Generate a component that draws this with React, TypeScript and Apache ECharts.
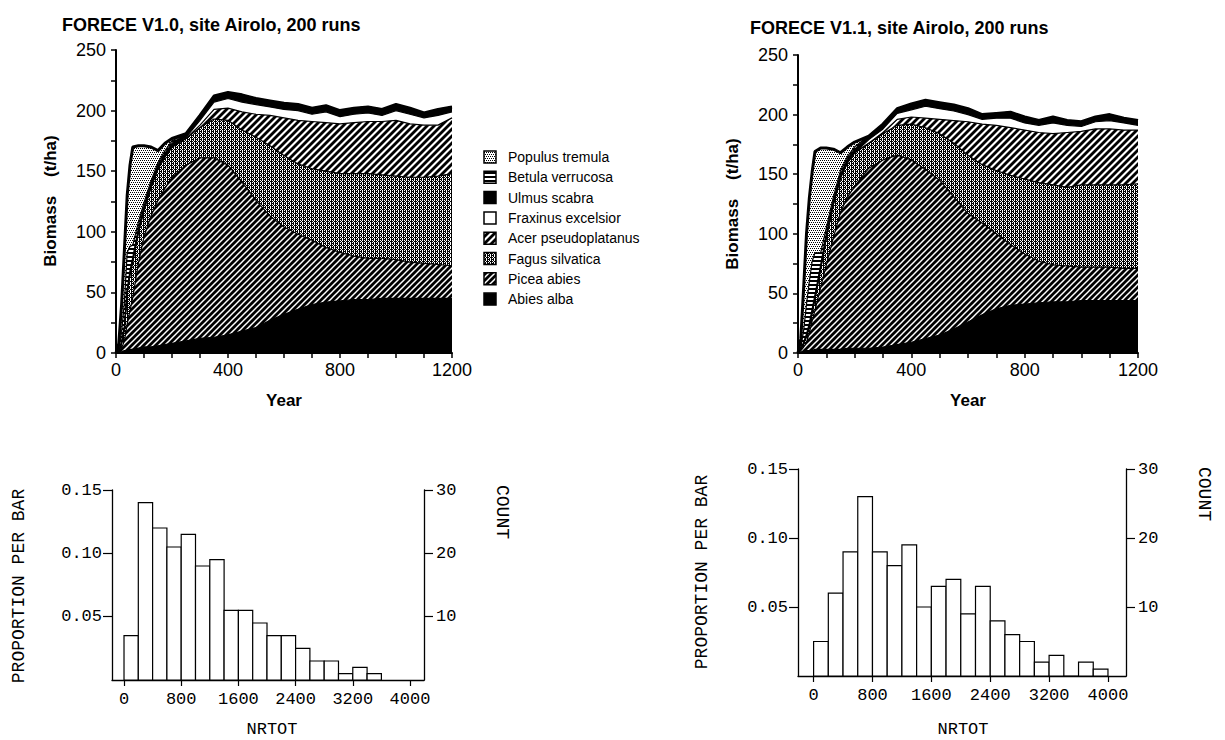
import React, { useEffect, useRef } from 'react';
import * as echarts from 'echarts';

// ---------- data ----------
const years = [0, 10, 20, 30, 40, 50, 60, 80, 100, 125, 150, 175, 200, 250, 300, 350, 400, 450, 500, 550, 600, 650, 700, 750, 800, 850, 900, 950, 1000, 1050, 1100, 1150, 1200];

const speciesLegend = ['Populus tremula', 'Betula verrucosa', 'Ulmus scabra', 'Fraxinus excelsior', 'Acer pseudoplatanus', 'Fagus silvatica', 'Picea abies', 'Abies alba'];

// FORECE V1.0 — biomass (t/ha) per species
const abiesV10 = [0, 0, 1, 2, 2, 3, 3, 4, 5, 5, 6, 7, 8, 10, 12, 13, 15, 18, 21, 27, 32, 36, 40, 42, 43, 44, 44, 45, 45, 45, 45, 45, 45];
const piceaV10 = [0, 1, 3, 8, 22, 32, 43, 70, 91, 108, 120, 129, 137, 145, 149, 148, 140, 123, 105, 86, 72, 62, 53, 45, 40, 36, 34, 33, 32, 30, 29, 28, 27];
const fagusV10 = [0, 0, 4, 10, 26, 30, 30, 26, 22, 24, 26, 26, 25, 22, 25, 32, 37, 43, 52, 58, 59, 58, 59, 63, 65, 68, 70, 69, 69, 70, 71, 73, 76];
const acerV10 = [0, 0, 0, 0, 0, 0, 0, 0, 0, 0, 0, 0, 0, 0, 2, 8, 10, 15, 19, 25, 31, 36, 39, 40, 41, 42, 43, 44, 46, 44, 43, 42, 46];
const fraxinusV10 = [0, 0, 0, 0, 0, 0, 0, 0, 0, 0, 0, 0, 0, 1, 4, 6, 8, 8, 8, 7, 7, 8, 6, 9, 6, 7, 7, 5, 8, 8, 6, 8, 5];
const ulmusV10 = [0, 0, 1, 2, 3, 3, 3, 3, 3, 3, 3, 3, 3, 3, 4, 5, 5, 6, 5, 5, 5, 5, 5, 5, 5, 5, 5, 5, 5, 5, 4, 5, 4];
const betulaV10 = [0, 2, 8, 20, 30, 20, 10, 5, 3, 2, 2, 2, 2, 0, 0, 0, 0, 0, 0, 0, 0, 0, 0, 0, 0, 0, 0, 0, 0, 0, 0, 0, 0];
const populusV10 = [0, 5, 23, 43, 47, 67, 81, 63, 47, 28, 10, 6, 2, 0, 0, 0, 0, 0, 0, 0, 0, 0, 0, 0, 0, 0, 0, 0, 0, 0, 0, 0, 0];

// FORECE V1.1 — biomass (t/ha) per species
const abiesV11 = [0, 1, 1, 2, 2, 2, 3, 3, 3, 3, 3, 4, 4, 4, 5, 7, 9, 12, 15, 20, 26, 32, 37, 40, 41, 42, 43, 43, 44, 44, 44, 44, 44];
const piceaV11 = [0, 1, 4, 7, 15, 25, 33, 52, 71, 94, 115, 127, 136, 151, 157, 159, 153, 142, 130, 111, 91, 77, 63, 51, 42, 35, 31, 30, 28, 28, 28, 27, 27];
const fagusV11 = [0, 1, 3, 5, 5, 7, 10, 16, 23, 28, 29, 29, 28, 21, 22, 25, 30, 35, 39, 45, 49, 49, 53, 58, 63, 66, 67, 66, 69, 69, 69, 70, 71];
const acerV11 = [0, 0, 0, 0, 0, 0, 0, 0, 0, 0, 0, 0, 0, 0, 1, 5, 6, 8, 12, 19, 28, 34, 38, 40, 41, 42, 43, 46, 45, 47, 47, 46, 45];
const fraxinusV11 = [0, 0, 0, 0, 0, 0, 0, 0, 0, 0, 0, 0, 0, 3, 3, 5, 6, 10, 9, 8, 6, 4, 6, 8, 6, 6, 9, 6, 4, 6, 7, 6, 4];
const ulmusV11 = [0, 0, 1, 2, 3, 3, 3, 3, 3, 3, 3, 3, 3, 3, 4, 4, 5, 5, 5, 5, 5, 4, 4, 5, 5, 4, 5, 4, 4, 4, 5, 4, 4];
const betulaV11 = [0, 2, 10, 25, 35, 40, 35, 10, 5, 3, 3, 2, 2, 0, 0, 0, 0, 0, 0, 0, 0, 0, 0, 0, 0, 0, 0, 0, 0, 0, 0, 0, 0];
const populusV11 = [0, 7, 36, 59, 70, 75, 85, 88, 67, 40, 15, 8, 4, 0, 0, 0, 0, 0, 0, 0, 0, 0, 0, 0, 0, 0, 0, 0, 0, 0, 0, 0, 0];

// Histograms of NRTOT (bin width 200, starting at 0)
const binStarts = [0, 200, 400, 600, 800, 1000, 1200, 1400, 1600, 1800, 2000, 2200, 2400, 2600, 2800, 3000, 3200, 3400, 3600, 3800];
const binWidth = 200;
const countsV10 = [7, 28, 24, 21, 23, 18, 19, 11, 11, 9, 7, 7, 5, 3, 3, 1, 2, 1];
const countsV11 = [5, 12, 18, 26, 18, 16, 19, 10, 13, 14, 9, 13, 8, 6, 5, 2, 3, 0, 2, 1];
const runs = 200;

const nrtotTicks = [0, 800, 1600, 2400, 3200, 4000];
const proportionTicks = [0.05, 0.1, 0.15];
const countTicks = [10, 20, 30];

const titleV10 = 'FORECE V1.0, site Airolo, 200 runs';
const titleV11 = 'FORECE V1.1, site Airolo, 200 runs';

// ---------- patterns ----------
function pixelTile(rows: string[]) {
  const h = rows.length;
  const w = rows[0].length;
  const c = document.createElement('canvas');
  c.width = w;
  c.height = h;
  const ctx = c.getContext('2d') as CanvasRenderingContext2D;
  const img = ctx.createImageData(w, h);
  for (let y = 0; y < h; y++) {
    for (let x = 0; x < w; x++) {
      const v = rows[y][x] === '#' ? 0 : 255;
      const i = (y * w + x) * 4;
      img.data[i] = v;
      img.data[i + 1] = v;
      img.data[i + 2] = v;
      img.data[i + 3] = 255;
    }
  }
  ctx.putImageData(img, 0, 0);
  return { image: c.toDataURL(), repeat: 'repeat', imageWidth: w, imageHeight: h };
}

function hatchTile(size: number, bg: string, fg: string, lw: number) {
  const c = document.createElement('canvas');
  c.width = size;
  c.height = size;
  const ctx = c.getContext('2d') as CanvasRenderingContext2D;
  ctx.fillStyle = bg;
  ctx.fillRect(0, 0, size, size);
  ctx.strokeStyle = fg;
  ctx.lineWidth = lw;
  for (const o of [-size, 0, size]) {
    ctx.beginPath();
    ctx.moveTo(o - 1, size + 1);
    ctx.lineTo(o + size + 1, -1);
    ctx.stroke();
  }
  return { image: c.toDataURL(), repeat: 'repeat', imageWidth: size, imageHeight: size };
}

function buildPatterns() {
  const black = '#000';
  const white = '#fff';
  const picea = hatchTile(6, '#000', '#fff', 1.5);
  const acer = hatchTile(7, '#fff', '#000', 2.8);
  const fagus = pixelTile(['.#.#', '#.##', '.#.#', '##.#']);
  const populus = pixelTile(['#.#.', '....', '.#.#', '....']);
  const betula = pixelTile(['####', '####', '....', '....']);
  // bottom -> top order
  return [black, picea, fagus, acer, white, black, betula, populus];
}

// ---------- helpers ----------
function stackedSeries(layers: number[][], patterns: any[], axisIdx: number) {
  const cum: number[][] = [];
  let running = years.map(() => 0);
  layers.forEach((arr) => {
    running = running.map((v, k) => v + arr[k]);
    cum.push(running);
  });
  const out: any[] = [];
  for (let i = layers.length - 1; i >= 0; i--) {
    out.push({
      type: 'line',
      xAxisIndex: axisIdx,
      yAxisIndex: axisIdx,
      data: years.map((y, k) => [y, cum[i][k]]),
      symbol: 'none',
      smooth: false,
      silent: true,
      lineStyle: { color: '#000', width: 1.2 },
      areaStyle: { color: patterns[i], opacity: 1, origin: 'start' },
      z: 2,
    });
  }
  out.push({
    type: 'line',
    xAxisIndex: axisIdx,
    yAxisIndex: axisIdx,
    data: years.map((y, k) => [y, cum[layers.length - 1][k]]),
    symbol: 'none',
    silent: true,
    lineStyle: { color: '#000', width: 3 },
    z: 3,
  });
  return out;
}

function histSeries(counts: number[], xIdx: number, yIdx: number) {
  return {
    type: 'custom',
    xAxisIndex: xIdx,
    yAxisIndex: yIdx,
    silent: true,
    data: counts.map((c, i) => [binStarts[i], binStarts[i] + binWidth, c]),
    encode: { x: [0, 1], y: 2 },
    renderItem: (params: any, api: any) => {
      const p0 = api.coord([api.value(0), api.value(2)]);
      const p1 = api.coord([api.value(1), 0]);
      return {
        type: 'rect',
        shape: { x: p0[0], y: p0[1], width: p1[0] - p0[0], height: p1[1] - p0[1] },
        style: { fill: '#fff', stroke: '#000', lineWidth: 1.2 },
      };
    },
    z: 2,
  };
}

const SANS = '"Liberation Sans", Arial, Helvetica, sans-serif';
const MONO = '"Liberation Mono", "Courier New", monospace';

function topXAxis(gridIndex: number) {
  return {
    type: 'value', gridIndex, min: 0, max: 1200, interval: 100,
    axisLine: { show: true, onZero: false, lineStyle: { color: '#000', width: 2 } },
    axisTick: { show: true, length: 5, lineStyle: { color: '#000', width: 1.5 } },
    axisLabel: { color: '#000', fontFamily: SANS, fontSize: 18, margin: 8, formatter: (v: number) => (v % 400 === 0 ? String(v) : '') },
    splitLine: { show: false },
  };
}
function topYAxis(gridIndex: number) {
  return {
    type: 'value', gridIndex, min: 0, max: 250, interval: 25,
    axisLine: { show: true, onZero: false, lineStyle: { color: '#000', width: 2 } },
    axisTick: { show: true, length: 5, lineStyle: { color: '#000', width: 1.5 } },
    axisLabel: { color: '#000', fontFamily: SANS, fontSize: 18, margin: 10, formatter: (v: number) => (v % 50 === 0 ? String(v) : '') },
    splitLine: { show: false },
  };
}
function histXAxis(gridIndex: number, min: number, max: number) {
  return {
    type: 'value', gridIndex, min, max,
    axisLine: { show: true, onZero: false, lineStyle: { color: '#000', width: 1.3 } },
    axisTick: { show: true, customValues: nrtotTicks, length: 6, lineStyle: { color: '#000', width: 1.2 } },
    axisLabel: { customValues: nrtotTicks, color: '#000', fontFamily: MONO, fontSize: 17, margin: 11, formatter: (v: number) => String(Math.round(v)) },
    splitLine: { show: false },
  };
}
function propAxis(gridIndex: number) {
  return {
    type: 'value', gridIndex, position: 'left', min: 0, max: 0.15,
    axisLine: { show: true, onZero: false, lineStyle: { color: '#000', width: 1.3 } },
    axisTick: { show: true, customValues: proportionTicks, length: 9, lineStyle: { color: '#000', width: 1.2 } },
    axisLabel: { customValues: proportionTicks, color: '#000', fontFamily: MONO, fontSize: 17, margin: 10, formatter: (v: number) => v.toFixed(2) },
    splitLine: { show: false },
  };
}
function countAxis(gridIndex: number) {
  return {
    type: 'value', gridIndex, position: 'right', min: 0, max: runs * 0.15,
    axisLine: { show: true, onZero: false, lineStyle: { color: '#000', width: 1.3 } },
    axisTick: { show: true, customValues: countTicks, length: 9, lineStyle: { color: '#000', width: 1.2 } },
    axisLabel: { customValues: countTicks, color: '#000', fontFamily: MONO, fontSize: 17, margin: 12, formatter: (v: number) => String(Math.round(v)) },
    splitLine: { show: false },
  };
}

function txt(text: string, x: number, y: number, opts: any = {}) {
  return {
    type: 'text', x, y, rotation: opts.rotation || 0, silent: true,
    style: {
      text, fill: '#000',
      fontFamily: opts.fontFamily || SANS,
      fontSize: opts.fontSize || 16,
      fontWeight: opts.fontWeight || 'normal',
      align: opts.align || 'center',
      verticalAlign: 'middle',
    },
  };
}

export default function App() {
  const ref = useRef<HTMLDivElement>(null);
  useEffect(() => {
    document.body.style.margin = '0';
    if (!ref.current) return;
    const chart = echarts.init(ref.current, null, { renderer: 'svg' });
    const pats = buildPatterns();
    const layersV10 = [abiesV10, piceaV10, fagusV10, acerV10, fraxinusV10, ulmusV10, betulaV10, populusV10];
    const layersV11 = [abiesV11, piceaV11, fagusV11, acerV11, fraxinusV11, ulmusV11, betulaV11, populusV11];
    const legendPats = [...pats].reverse();

    const graphics: any[] = [
      txt(titleV10, 62, 25, { fontWeight: 'bold', fontSize: 18, align: 'left' }),
      txt(titleV11, 750, 28, { fontWeight: 'bold', fontSize: 18, align: 'left' }),
      txt('Biomass    (t/ha)', 50, 201, { fontWeight: 'bold', fontSize: 17, rotation: Math.PI / 2 }),
      txt('Biomass    (t/ha)', 732, 204, { fontWeight: 'bold', fontSize: 17, rotation: Math.PI / 2 }),
      txt('Year', 284, 400, { fontWeight: 'bold', fontSize: 17 }),
      txt('Year', 968, 400, { fontWeight: 'bold', fontSize: 17 }),
      txt('PROPORTION PER BAR', 19, 586, { fontFamily: MONO, fontSize: 18, rotation: Math.PI / 2 }),
      txt('PROPORTION PER BAR', 702, 572, { fontFamily: MONO, fontSize: 18, rotation: Math.PI / 2 }),
      txt('COUNT', 502, 512, { fontFamily: MONO, fontSize: 18, rotation: -Math.PI / 2 }),
      txt('COUNT', 1204, 494, { fontFamily: MONO, fontSize: 18, rotation: -Math.PI / 2 }),
      txt('NRTOT', 272, 729, { fontFamily: MONO, fontSize: 17 }),
      txt('NRTOT', 963, 729, { fontFamily: MONO, fontSize: 17 }),
    ];
    speciesLegend.forEach((name, i) => {
      const cy = 157 + i * 20.3;
      graphics.push({
        type: 'rect', silent: true,
        shape: { x: 484, y: cy - 6, width: 12, height: 12 },
        style: { fill: legendPats[i], stroke: '#000', lineWidth: 1.5 },
      });
      graphics.push(txt(name, 508, cy, { fontSize: 14, align: 'left' }));
    });

    const option: any = {
      animation: false,
      backgroundColor: '#fff',
      grid: [
        { left: 116, top: 50, width: 336, height: 303, outerBoundsMode: 'none', containLabel: false },
        { left: 798, top: 55, width: 340, height: 298, outerBoundsMode: 'none', containLabel: false },
        { left: 112, top: 490, width: 312, height: 190, outerBoundsMode: 'none', containLabel: false },
        { left: 798, top: 469, width: 328, height: 207, outerBoundsMode: 'none', containLabel: false },
      ],
      xAxis: [topXAxis(0), topXAxis(1), histXAxis(2, -168, 4196), histXAxis(3, -212, 4245)],
      yAxis: [topYAxis(0), topYAxis(1), propAxis(2), countAxis(2), propAxis(3), countAxis(3)],
      series: [
        ...stackedSeries(layersV10, pats, 0),
        ...stackedSeries(layersV11, pats, 1),
        histSeries(countsV10, 2, 3),
        histSeries(countsV11, 3, 5),
      ],
      graphic: graphics,
    };
    chart.setOption(option);
    return () => chart.dispose();
  }, []);
  return <div ref={ref} style={{ width: 1225, height: 740 }} />;
}
